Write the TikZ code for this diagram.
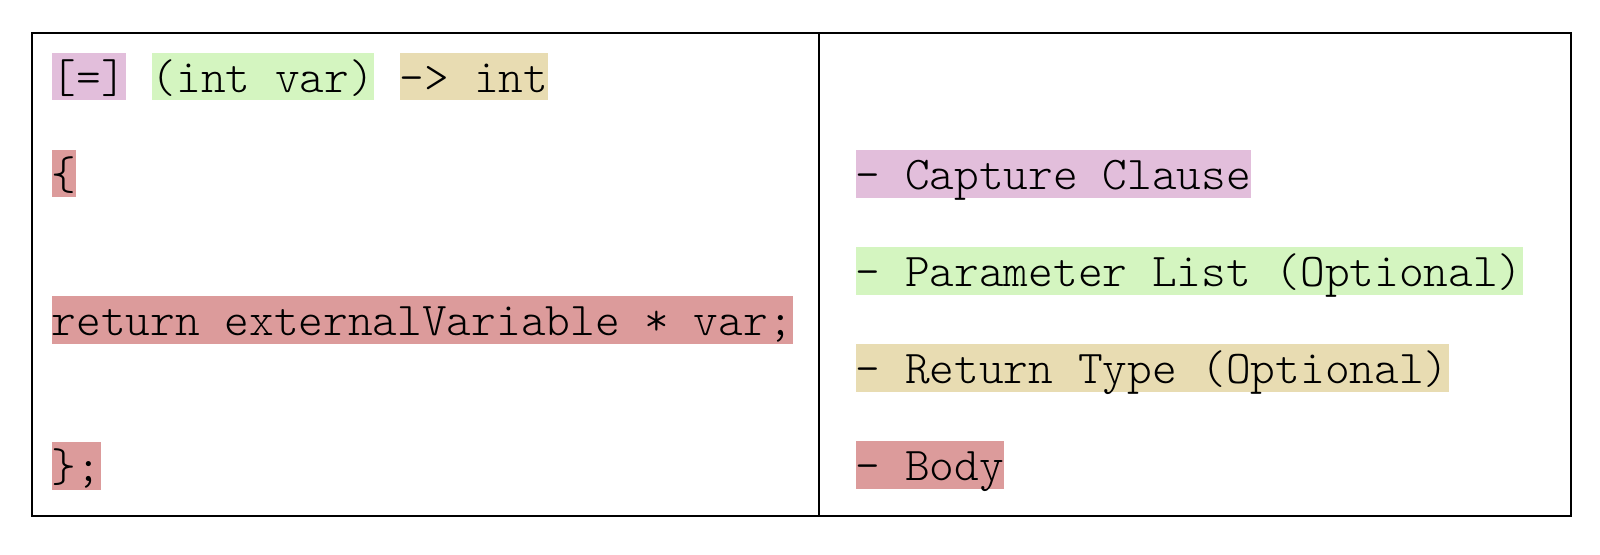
\documentclass[tikz,border=0pt]{standalone}
\usetikzlibrary{positioning}
\definecolor{capcol}{HTML}{E2BEDB}
\definecolor{parcol}{HTML}{D4F5C0}
\definecolor{retcol}{HTML}{E8DCB2}
\definecolor{bodcol}{HTML}{DC9B9B}
\tikzset{
  tok/.style={
    rectangle, inner sep=0pt, anchor=west,
    text height=0.395cm, text depth=0.08cm,
    font=\ttfamily\fontseries{l}\fontsize{13.38}{16}\selectfont
  },
  capbox/.style={tok, fill=capcol},
  parbox/.style={tok, fill=parcol},
  retbox/.style={tok, fill=retcol},
  bodbox/.style={tok, fill=bodcol},
  frame/.style={draw=black, line width=0.6pt},
}
\begin{document}
\begin{tikzpicture}[x=0.01cm, y=-0.01cm]
  \useasboundingbox (0,0) rectangle (1600,554);
  % outer frame and divider
  \draw[frame] (31.6,32.7) rectangle (1571.4,516.3);
  \coordinate (divtop) at (819.4,32.7);
  \coordinate (divbot) at (819.4,516.3);
  \draw[frame] (divtop) -- (divbot);
  % left column: code
  \node[capbox] (capture) at (51,76.5) {[=]};
  \node[parbox, right=0.245cm of capture] (params) {(int var)};
  \node[retbox, right=0.245cm of params] (rettype) {-> int};
  \node[bodbox] (open) at (51,173.5) {\{};
  \node[bodbox] (stmt) at (51,320) {return externalVariable * var;};
  \node[bodbox] (close) at (51,466) {\};};
  % right column: legend
  \node[capbox] (lcap) at (855,174) {- Capture Clause};
  \node[parbox] (lpar) at (855,271) {- Parameter List (Optional)};
  \node[retbox] (lret) at (855,368) {- Return Type (Optional)};
  \node[bodbox] (lbod) at (855,465) {- Body};
\end{tikzpicture}
\end{document}
